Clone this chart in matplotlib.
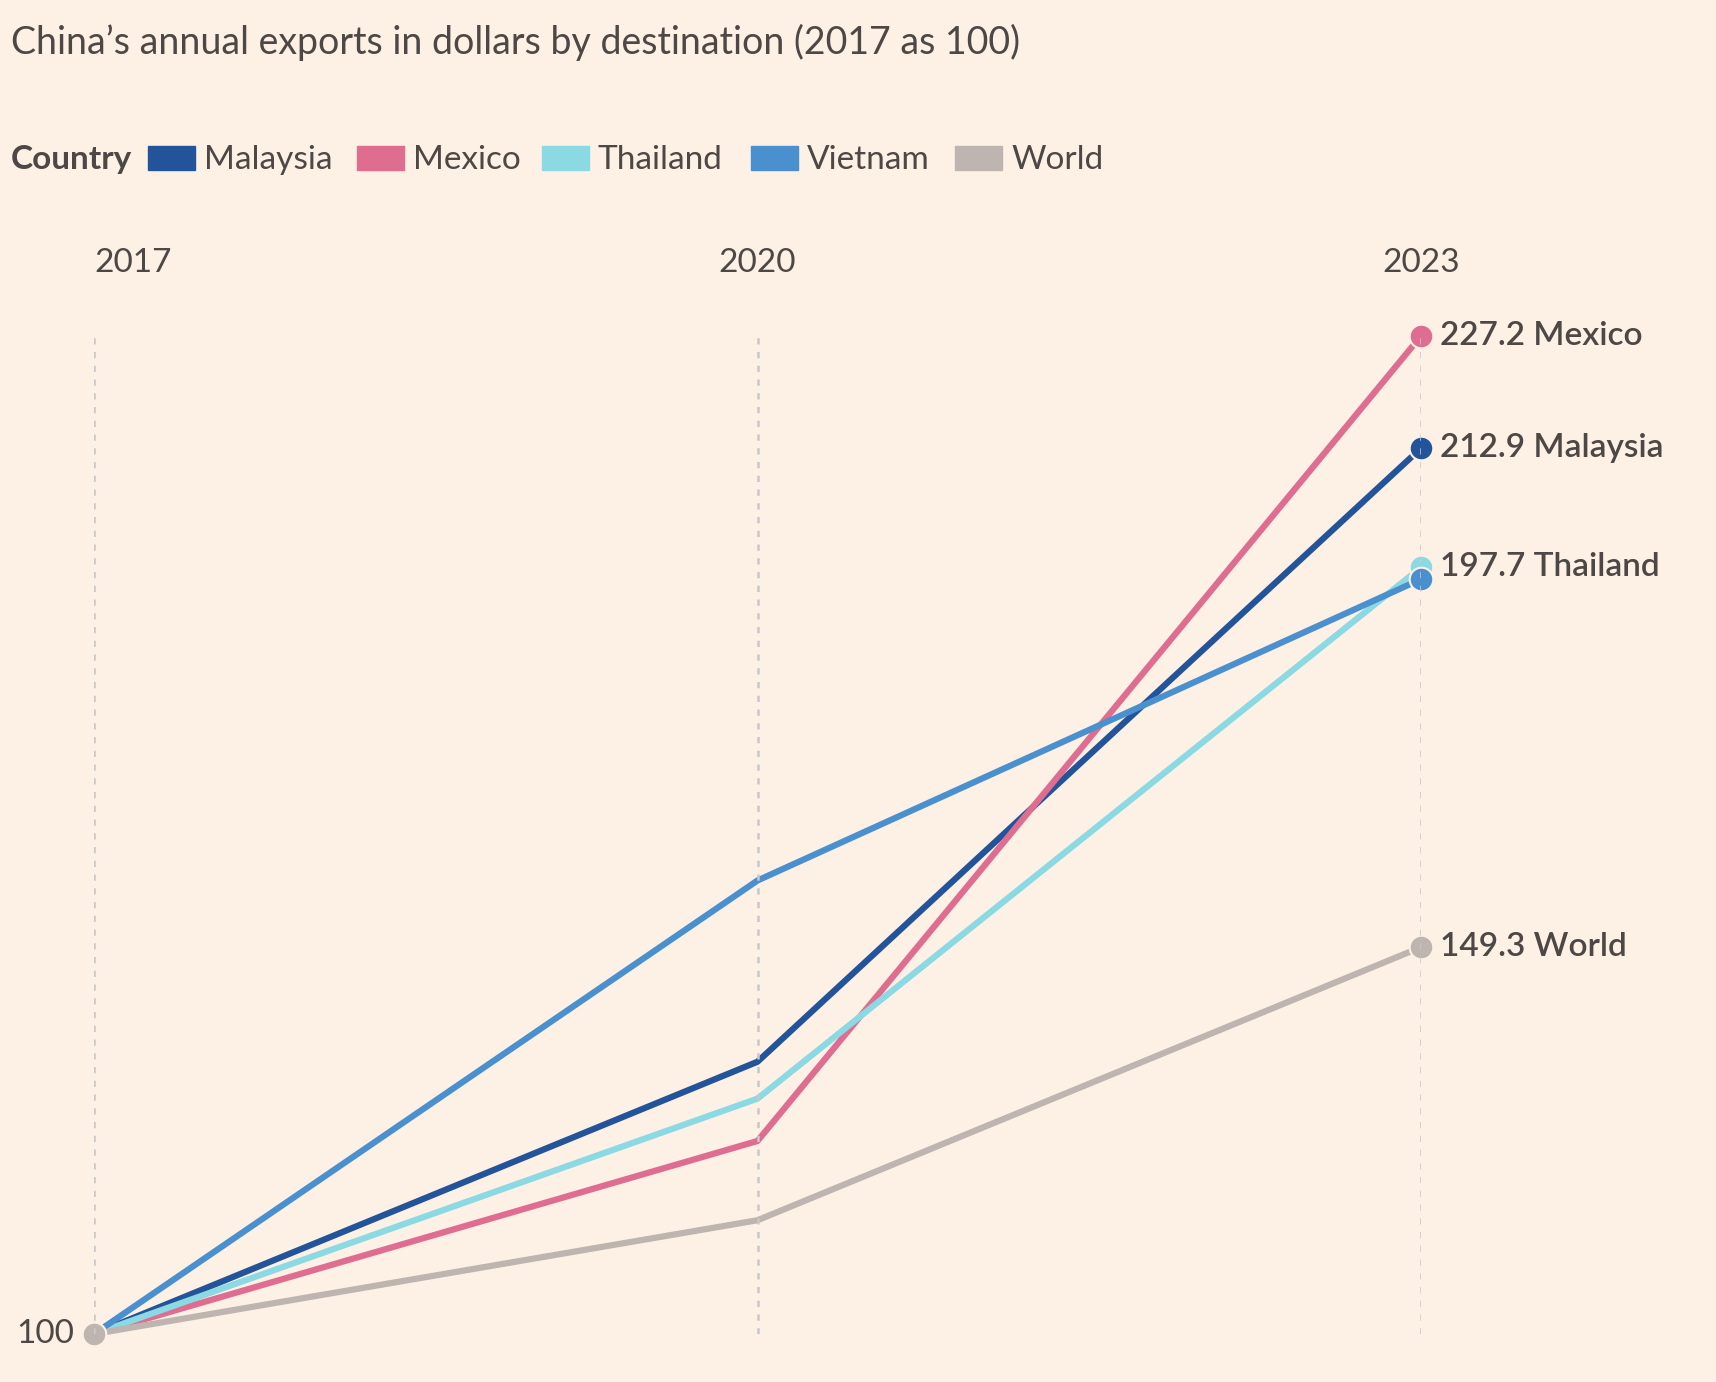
import matplotlib.pyplot as plt
from matplotlib.patches import Rectangle

plt.rcParams['font.family'] = ['Lato', 'DejaVu Sans']

years = [2017, 2020, 2023]
countries = ['Malaysia', 'Mexico', 'Thailand', 'Vietnam', 'World']
malaysia = [100, 134.7, 212.9]
mexico = [100, 124.6, 227.2]
thailand = [100, 130.0, 197.7]
vietnam = [100, 157.8, 196.2]
world = [100, 114.5, 149.3]
series = [malaysia, mexico, thailand, vietnam, world]
colors = ['#23549a', '#de6d90', '#8bd9e3', '#4a90cf', '#bfb5b0']
labelled = ['Mexico', 'Malaysia', 'Thailand', 'World']

bg = '#fdf1e6'
ink = '#4d4845'

fig = plt.figure(figsize=(17.16, 13.82), dpi=100, facecolor=bg)
W, H = 1716, 1382
ax = fig.add_axes([94 / W, 1 - 1334 / H, (1421 - 94) / W, (1334 - 336) / H])
ax.set_facecolor(bg)
ax.set_xlim(2017, 2023)
ax.set_ylim(100, 227.2)
for s in ax.spines.values():
    s.set_visible(False)
ax.set_xticks([])
ax.set_yticks([])

# dotted year guides
for yr in years:
    ax.axvline(yr, color='#c9c7ca', lw=1.8, ls=(0, (2.5, 3)), zorder=5)

# lines
for name, vals, c in zip(countries, series, colors):
    ax.plot(years, vals, color=c, lw=4.5, solid_capstyle='round', zorder=2, clip_on=False)

# end markers
for name, vals, c in zip(countries, series, colors):
    ax.plot(years[-1], vals[-1], 'o', ms=17, color=c, mec=bg, mew=1.5, zorder=3, clip_on=False)
ax.plot(years[0], world[0], 'o', ms=17, color=colors[4], mec=bg, mew=1.5, zorder=3, clip_on=False)

# end labels
for name, vals in zip(countries, series):
    if name in labelled:
        ax.annotate(f'{vals[-1]:.1f} {name}', (years[-1], vals[-1]), xytext=(14, 0),
                    textcoords='offset points', va='center', ha='left', fontsize=24,
                    fontweight='semibold', color=ink, annotation_clip=False)

ax.annotate('100', (years[0], 100), xytext=(-14, 0), textcoords='offset points',
            ha='right', va='center', fontsize=24, color=ink, annotation_clip=False)

# year labels along the top
ytop = 1 - 263 / H
fig.text(94 / W, ytop, '2017', ha='left', va='center', fontsize=24, color=ink)
fig.text(757 / W, ytop, '2020', ha='center', va='center', fontsize=24, color=ink)
fig.text(1421 / W, ytop, '2023', ha='center', va='center', fontsize=24, color=ink)

# title
fig.text(11 / W, 1 - 42 / H, 'China\u2019s annual exports in dollars by destination (2017 as 100)',
         ha='left', va='center', fontsize=27, color=ink)

# legend
ly = 1 - 160 / H
fig.text(11 / W, ly, 'Country', ha='left', va='center', fontsize=24, fontweight='bold', color=ink)
sw_x = [148, 357, 542, 751, 955]
for x0, name, c in zip(sw_x, countries, colors):
    fig.patches.append(Rectangle((x0 / W, 1 - 170 / H), 47 / W, 24 / H, transform=fig.transFigure,
                                 color=c, figure=fig))
    fig.text((x0 + 56) / W, ly, name, ha='left', va='center', fontsize=24, color=ink)

plt.savefig('out.png', dpi=100, facecolor=bg)
plt.close()
